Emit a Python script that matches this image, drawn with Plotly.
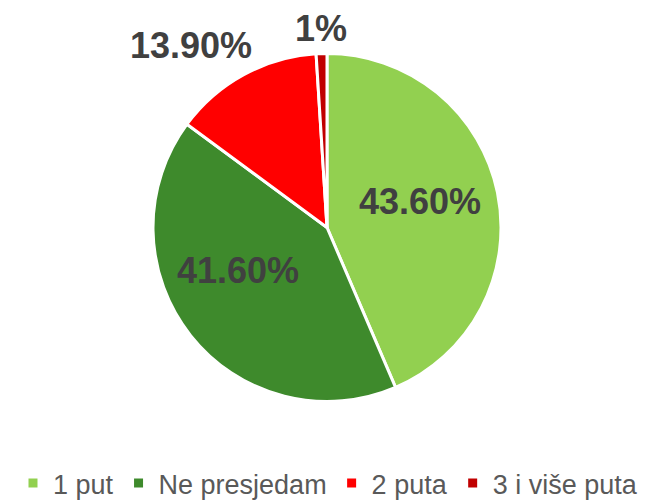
import math
import plotly.graph_objects as go

labels = ["1 put", "Ne presjedam", "2 puta", "3 i više puta"]
values = [43.6, 41.6, 13.9, 1.0]
text_labels = ["43.60%", "41.60%", "13.90%", "1%"]
colors = ["#92D050", "#3E8A2C", "#FF0000", "#C00000"]

# figure canvas (page adds an 8px body margin, so coordinates here are page-8)
W, H = 656, 500
cx, cy, r = 319, 219.5, 174

# label placement: radial factor along slice mid-angle + pixel nudge
label_radius = [0.55, 0.60, 1.30, 1.16]
label_nudge = [(-1, 7), (-7, 22), (-28, -17), (0, -3)]
label_font = dict(family="Liberation Sans, Arial", size=36, color="#404040", weight="bold")

fig = go.Figure(go.Pie(
    labels=labels,
    values=values,
    textinfo="none",
    sort=False,
    direction="clockwise",
    rotation=0,
    marker=dict(colors=colors, line=dict(color="white", width=3)),
    domain=dict(x=[(cx - r) / W, (cx + r) / W], y=[1 - (cy + r) / H, 1 - (cy - r) / H]),
    hoverinfo="label+percent",
))

total = sum(values)
cum = 0.0
annotations = []
for i, v in enumerate(values):
    mid = (cum + v / 2) / total * 2 * math.pi
    cum += v
    d = r * label_radius[i]
    px = cx + d * math.sin(mid)
    py = cy - d * math.cos(mid)
    annotations.append(dict(
        x=px / W, y=1 - py / H, xref="paper", yref="paper",
        text=text_labels[i], showarrow=False,
        xanchor="center", yanchor="middle", font=label_font,
        xshift=label_nudge[i][0], yshift=label_nudge[i][1],
    ))

fig.update_layout(
    width=W, height=H,
    margin=dict(l=0, r=0, t=0, b=0),
    paper_bgcolor="white",
    plot_bgcolor="white",
    showlegend=True,
    annotations=annotations,
    legend=dict(
        orientation="h",
        x=0.4878, xanchor="center",
        y=0.0, yanchor="bottom",
        font=dict(family="Liberation Sans, Arial", size=27, color="#595959"),
        traceorder="normal",
    ),
)

fig.write_html("out.html")
